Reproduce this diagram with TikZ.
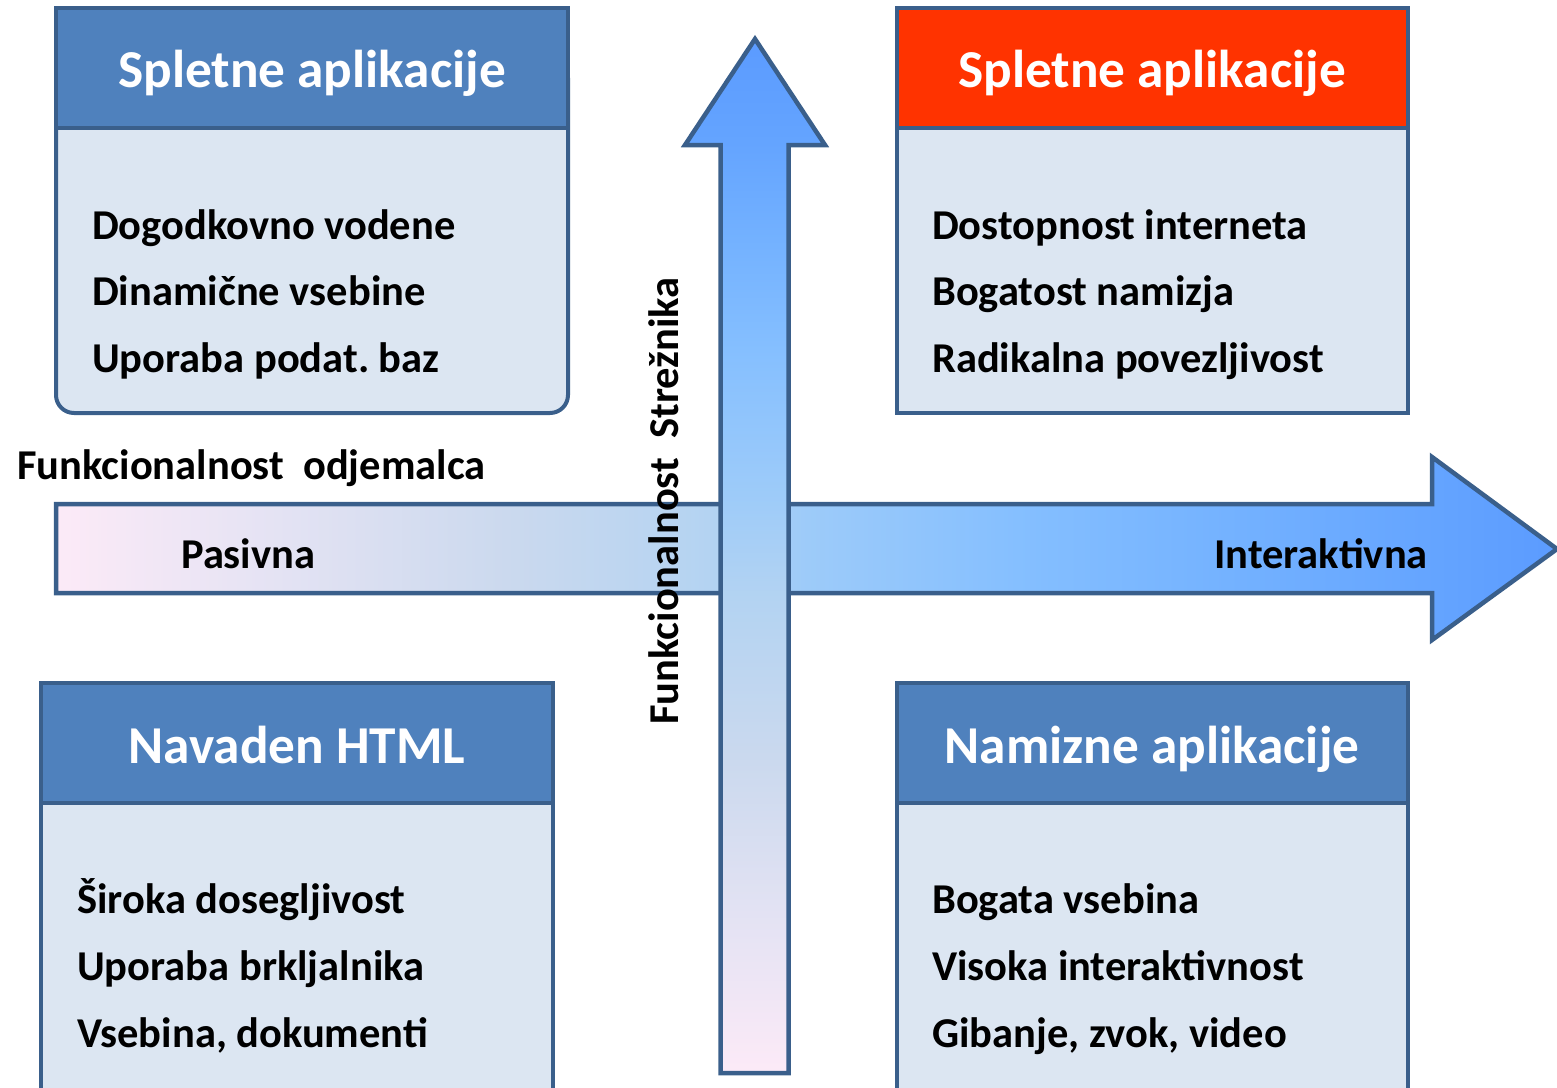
\documentclass[tikz,border=0pt]{standalone}
\usepackage{fontspec}
\setmainfont{Carlito}
\frenchspacing

% frame and fill colours
\definecolor{edge}{HTML}{3A5F8B}
\definecolor{hdrblue}{HTML}{4F81BD}
\definecolor{hdrred}{HTML}{FF3300}
\definecolor{bodyfill}{HTML}{DCE6F2}

% gradient stops for the two axis arrows
\definecolor{gA}{HTML}{FCEAF7}
\definecolor{gB}{HTML}{E2E2F3}
\definecolor{gC}{HTML}{CBD9EE}
\definecolor{gD}{HTML}{B3D3F2}
\definecolor{gE}{HTML}{9DCBF9}
\definecolor{gF}{HTML}{85BFFF}
\definecolor{gG}{HTML}{74B2FF}
\definecolor{gH}{HTML}{64A4FF}
\definecolor{gI}{HTML}{5B9BFF}

\pgfdeclarehorizontalshading{harrow}{100bp}{color(0bp)=(gA); color(25bp)=(gA);
  color(33bp)=(gB); color(40bp)=(gC); color(47bp)=(gD); color(50bp)=(gE);
  color(57bp)=(gF); color(64bp)=(gG); color(71bp)=(gH); color(75bp)=(gI);
  color(100bp)=(gI)}
\pgfdeclareverticalshading{varrow}{100bp}{color(0bp)=(gA); color(25bp)=(gA);
  color(33bp)=(gB); color(40bp)=(gC); color(48bp)=(gD); color(53bp)=(gE);
  color(60bp)=(gF); color(65bp)=(gG); color(70bp)=(gH); color(75bp)=(gI);
  color(100bp)=(gI)}

\tikzset{
  boxline/.style={draw=edge, line width=4pt},
  arrowline/.style={draw=edge, line width=4.5pt},
  title/.style={font=\fontsize{53.3}{60}\selectfont\bfseries, text=white, anchor=base, inner sep=0pt},
  item/.style={font=\fontsize{42.5}{50}\selectfont\bfseries, anchor=base west, inner sep=0pt},
  axislabel/.style={font=\fontsize{42.5}{50}\selectfont\bfseries, inner sep=0pt},
}

\begin{document}
\begin{tikzpicture}[x=1pt, y=-1pt]
\useasboundingbox (0,0) rectangle (1557,1087);
\clip (0,0) rectangle (1557,1087);

% top-left quadrant
\draw[boxline, fill=bodyfill, rounded corners=18pt] (56,60) rectangle (568,413);
\draw[boxline, fill=hdrblue] (56,8) rectangle (568,128);
\node[title] (tlHead) at (312,87) {Spletne aplikacije};
\node[item] (tlA) at (92,239) {Dogodkovno vodene};
\node[item] (tlB) at (92,305) {Dinamične vsebine};
\node[item] (tlC) at (92,372) {Uporaba podat. baz};

% top-right quadrant
\draw[boxline, fill=bodyfill] (897,128) rectangle (1408,413);
\draw[boxline, fill=hdrred] (897,8) rectangle (1408,128);
\node[title] (trHead) at (1152,87) {Spletne aplikacije};
\node[item] (trA) at (932,239) {Dostopnost interneta};
\node[item] (trB) at (932,305) {Bogatost namizja};
\node[item] (trC) at (932,372) {Radikalna povezljivost};

% bottom-left quadrant
\draw[boxline, fill=bodyfill] (41,803) rectangle (553,1110);
\draw[boxline, fill=hdrblue] (41,683) rectangle (553,803);
\node[title] (blHead) at (297,763) {Navaden HTML};
\node[item] (blA) at (77,913) {Široka dosegljivost};
\node[item] (blB) at (77,980) {Uporaba brkljalnika};
\node[item] (blC) at (77,1047) {Vsebina, dokumenti};

% bottom-right quadrant
\draw[boxline, fill=bodyfill] (897,803) rectangle (1408,1110);
\draw[boxline, fill=hdrblue] (897,683) rectangle (1408,803);
\node[title] (brHead) at (1152,763) {Namizne aplikacije};
\node[item] (brA) at (932,913) {Bogata vsebina};
\node[item] (brB) at (932,980) {Visoka interaktivnost};
\node[item] (brC) at (932,1047) {Gibanje, zvok, video};

% horizontal axis: client functionality
\draw[arrowline, shade, shading=harrow]
  (56,504) -- (1432,504) -- (1432,457) -- (1557,549) -- (1432,640)
  -- (1432,593) -- (56,593) -- cycle;

% vertical axis: server functionality
\draw[arrowline, shade, shading=varrow]
  (720.5,1073) -- (720.5,145) -- (685,145) -- (755,39) -- (825,145)
  -- (788.5,145) -- (788.5,1073) -- cycle;

% axis labels
\node[axislabel, anchor=base west] (client) at (17,479) {Funkcionalnost\ \ odjemalca};
\node[axislabel, anchor=base west] (passive) at (181,568) {Pasivna};
\node[axislabel, anchor=base east] (active) at (1428,568) {Interaktivna};
\node[axislabel, anchor=base west, rotate=90] (server) at (678,725) {Funkcionalnost\ \ Strežnika};
\end{tikzpicture}
\end{document}
